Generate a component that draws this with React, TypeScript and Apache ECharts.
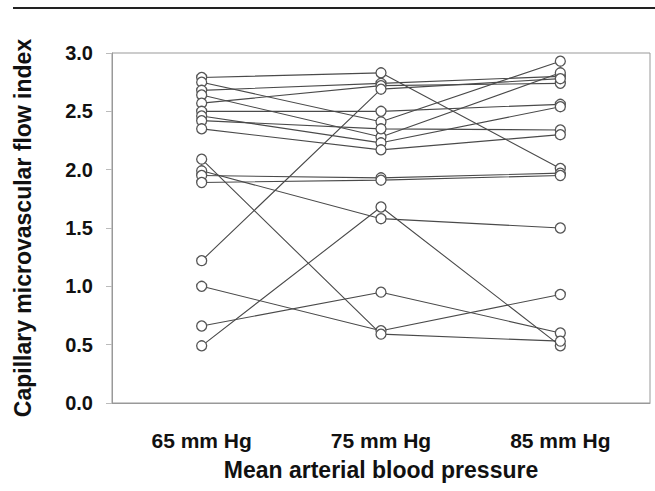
import React, { useEffect, useRef } from "react";
import * as echarts from "echarts";

const categories = ["65 mm Hg", "75 mm Hg", "85 mm Hg"];
const yTicks = [0, 0.5, 1, 1.5, 2, 2.5, 3];

// one value per subject at each pressure level
const at65 = [2.79, 2.75, 2.68, 2.64, 2.57, 2.5, 2.46, 2.42, 2.35, 1.22, 0.49, 0.66, 1.0, 2.09, 1.99, 1.95, 1.89];
const at75 = [2.83, 2.41, 2.74, 2.28, 2.72, 2.5, 2.23, 2.35, 2.17, 2.69, 1.68, 0.95, 0.62, 0.59, 1.58, 1.93, 1.91];
const at85 = [2.01, 2.93, 2.8, 2.83, 2.74, 2.56, 2.54, 2.34, 2.3, 2.78, 0.49, 0.6, 0.93, 0.53, 1.5, 1.97, 1.95];

const FONT = "'Liberation Sans', Arial, Helvetica, sans-serif";

export default function App() {
  const ref = useRef<HTMLDivElement>(null);
  useEffect(() => {
    if (!ref.current) return;
    const chart = echarts.init(ref.current, null, { renderer: "svg" });
    const series = at65.map((v, i) => ({
      type: "line",
      data: [v, at75[i], at85[i]],
      symbol: "circle",
      symbolSize: 10,
      showSymbol: true,
      lineStyle: { color: "#4a4a4a", width: 1.1 },
      itemStyle: { color: "#fff", borderColor: "#555", borderWidth: 1.3 },
      emphasis: { disabled: true },
      z: 2,
    }));
    chart.setOption({
      animation: false,
      backgroundColor: "#fff",
      textStyle: { fontFamily: FONT },
      grid: {
        left: 112,
        right: 5,
        top: 53,
        bottom: 88,
        show: true,
        borderColor: "#999",
        borderWidth: 1,
        backgroundColor: "transparent",
      },
      xAxis: {
        type: "category",
        data: categories,
        boundaryGap: true,
        axisLine: { show: true, lineStyle: { color: "#999", width: 1 } },
        axisTick: { show: false },
        axisLabel: {
          color: "#111",
          fontSize: 21,
          fontWeight: "bold",
          fontFamily: FONT,
          margin: 27,
        },
        name: "Mean arterial blood pressure",
        nameLocation: "middle",
        nameGap: 55,
        nameTextStyle: { color: "#111", fontSize: 23, fontWeight: "bold", fontFamily: FONT },
        splitLine: { show: false },
      },
      yAxis: {
        type: "value",
        min: yTicks[0],
        max: yTicks[yTicks.length - 1],
        interval: 0.5,
        axisLine: { show: true, lineStyle: { color: "#999", width: 1 } },
        axisTick: { show: true, length: 6, lineStyle: { color: "#bbb" } },
        axisLabel: {
          color: "#111",
          fontSize: 20,
          fontWeight: "bold",
          fontFamily: FONT,
          margin: 19,
          formatter: (v: number) => v.toFixed(1),
        },
        splitLine: { show: false },
        name: "Capillary microvascular flow index",
        nameLocation: "middle",
        nameGap: 78,
        nameRotate: 90,
        nameTextStyle: { color: "#111", fontSize: 23, fontWeight: "bold", fontFamily: FONT },
      },
      graphic: [
        {
          type: "line",
          shape: { x1: 13, y1: 8, x2: 655, y2: 8 },
          style: { stroke: "#222", lineWidth: 2 },
        },
      ],
      series,
    });
    return () => chart.dispose();
  }, []);
  return (
    <div
      ref={ref}
      style={{ position: "fixed", left: 0, top: 0, width: 655, height: 491, background: "#fff" }}
    />
  );
}
